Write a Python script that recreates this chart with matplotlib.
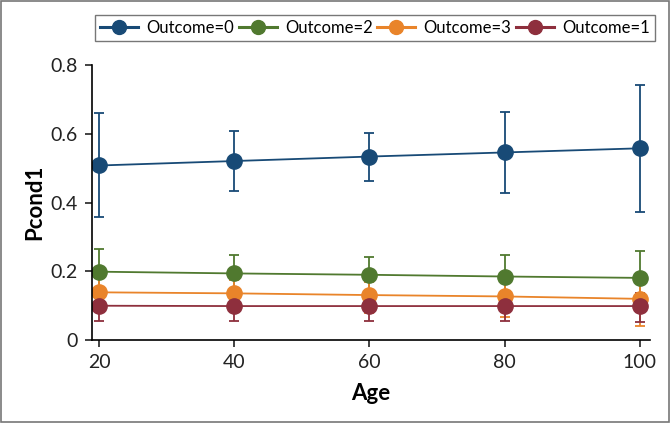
import matplotlib.pyplot as plt
from matplotlib.patches import Rectangle
from matplotlib.lines import Line2D

plt.rcParams['font.family'] = ['Lato', 'DejaVu Sans']

# data
age = [20, 40, 60, 80, 100]
labels = ['Outcome=0', 'Outcome=2', 'Outcome=3', 'Outcome=1']
colors = ['#184a76', '#50792f', '#e9842a', '#8e2f3d']

p0 = [0.508, 0.521, 0.534, 0.546, 0.558]
p0_lo = [0.359, 0.435, 0.464, 0.429, 0.374]
p0_hi = [0.660, 0.607, 0.603, 0.663, 0.743]

p2 = [0.199, 0.194, 0.190, 0.185, 0.181]
p2_lo = [0.135, 0.140, 0.140, 0.125, 0.105]
p2_hi = [0.266, 0.249, 0.242, 0.247, 0.260]

p3 = [0.139, 0.136, 0.131, 0.127, 0.120]
p3_lo = [0.090, 0.085, 0.080, 0.068, 0.041]
p3_hi = [0.180, 0.175, 0.170, 0.175, 0.193]

p1 = [0.100, 0.099, 0.099, 0.099, 0.099]
p1_lo = [0.057, 0.057, 0.057, 0.057, 0.054]
p1_hi = [0.140, 0.140, 0.140, 0.140, 0.138]

series = [(p0, p0_lo, p0_hi), (p2, p2_lo, p2_hi), (p3, p3_lo, p3_hi), (p1, p1_lo, p1_hi)]

fig = plt.figure(figsize=(6.7, 4.23), dpi=100)
ax = fig.add_axes([0.137, 0.196, 0.833, 0.65])

handles = []
for (y, lo, hi), lab, c in zip(series, labels, colors):
    err = [[v - l for v, l in zip(y, lo)], [h - v for v, h in zip(y, hi)]]
    ax.errorbar(age, y, yerr=err, color=c, marker='o', markersize=11,
                linewidth=1.3, elinewidth=1.3, capsize=3.5, capthick=1.3)
    handles.append(Line2D([], [], color=c, marker='o', markersize=10, linewidth=2.2, label=lab))

ax.set_xlim(18.9, 101.5)
ax.set_ylim(0, 0.8)
ax.set_xticks(age)
ax.set_yticks([0, 0.2, 0.4, 0.6, 0.8])
ax.set_yticklabels(['0', '0.2', '0.4', '0.6', '0.8'])
ax.tick_params(labelsize=14, length=5, width=1.2, colors='#222222', pad=5)
ax.spines['top'].set_visible(False)
ax.spines['right'].set_visible(False)
ax.spines['left'].set_linewidth(1.2)
ax.spines['bottom'].set_linewidth(1.2)
ax.set_xlabel('Age', fontsize=16, fontweight='bold', labelpad=9)
ax.set_ylabel('Pcond1', fontsize=16, fontweight='bold', labelpad=4)

leg = fig.legend(handles=handles, loc='lower left',
                 bbox_to_anchor=(95 / 670, 1 - 41 / 423, 560 / 670, 29 / 423),
                 mode='expand', ncol=4, fontsize=12, frameon=True, fancybox=False,
                 edgecolor='#555555', handlelength=2.3, handletextpad=0.5,
                 borderpad=0.3, borderaxespad=0)
leg.get_frame().set_linewidth(1.0)

# outer border
fig.patches.append(Rectangle((0.002, 0.002), 0.996, 0.996, transform=fig.transFigure,
                             fill=False, edgecolor='#777777', linewidth=1.2))

fig.savefig('out.png', dpi=100)
